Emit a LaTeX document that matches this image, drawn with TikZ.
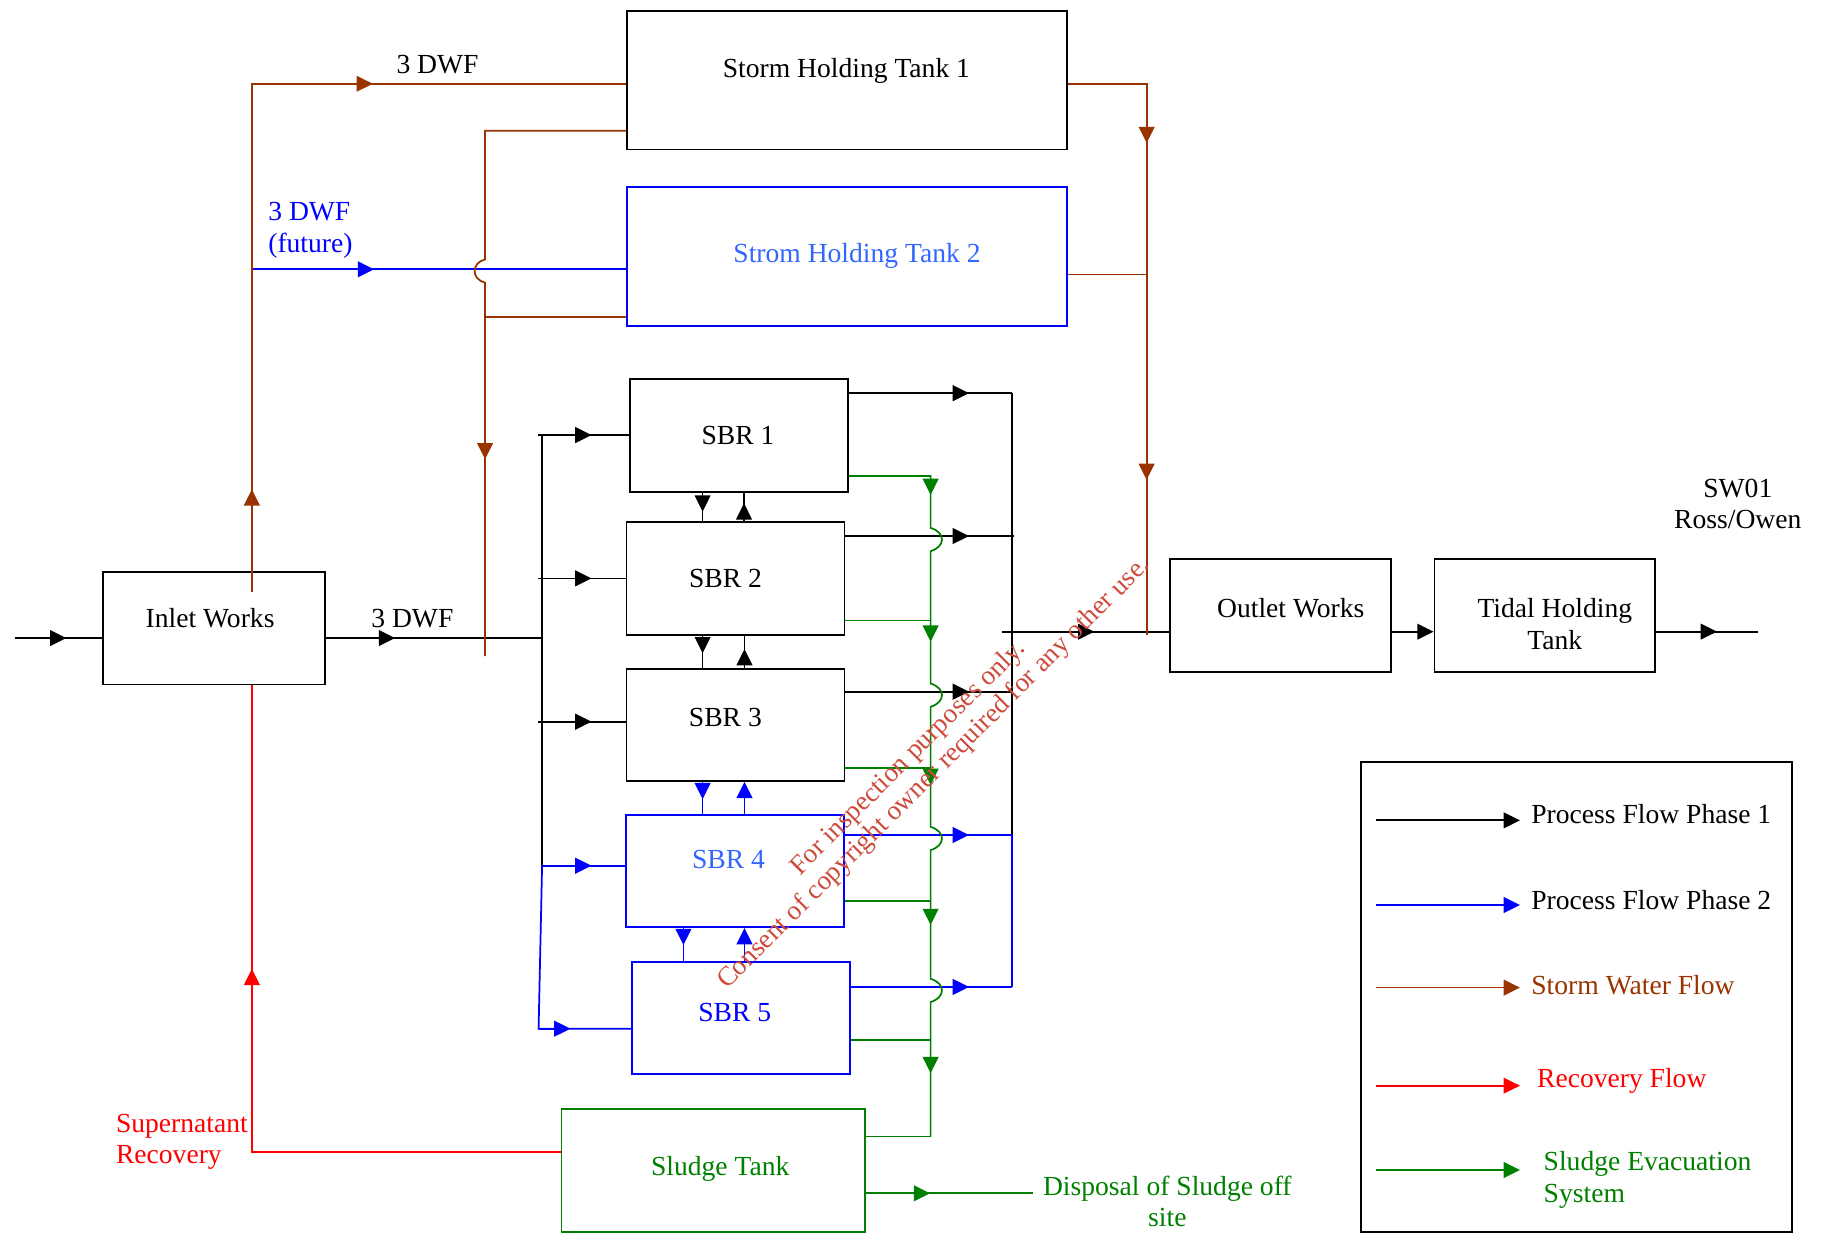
\documentclass[tikz,border=0pt]{standalone}
\usepackage{fontspec}
\setmainfont{Liberation Serif}
\usetikzlibrary{arrows.meta}

\definecolor{stormbrown}{RGB}{153,51,0}
\definecolor{phasetwo}{RGB}{0,0,255}
\definecolor{futureblue}{RGB}{51,102,255}
\definecolor{sludgegreen}{RGB}{0,128,0}
\definecolor{recovery}{RGB}{255,0,0}
\definecolor{stampred}{RGB}{205,75,60}

\begin{document}
\begin{tikzpicture}[x=0.02cm,y=-0.02cm,
    box/.style={draw,line width=0.9pt,inner sep=0pt},
    sbr/.style={box,minimum width=3.75cm,minimum height=1.93cm},
    lbl/.style={inner sep=0pt,anchor=base,font=\fontsize{13.5}{15.4}\selectfont},
    flow/.style={line width=0.85pt},
    flowtip/.style={flow,-{Triangle[length=0.28cm,width=0.27cm]}},
    stamp/.style={inner sep=0pt,text=stampred,rotate=45,font=\fontsize{13.3}{15}\selectfont}]
        \useasboundingbox (0,0) rectangle (1568,1061);

        % Boxes
        \node[box,minimum width=7.56cm,minimum height=2.38cm] (sht1) at (728,69) {};
        \node[box,draw=phasetwo,minimum width=7.56cm,minimum height=2.39cm] (sht2) at (728,220.4) {};
        \node[sbr] (sbr1) at (635.3,374.4) {};
        \node[sbr] (sbr2) at (632.3,497.3) {};
        \node[sbr] (sbr3) at (632.3,623) {};
        \node[sbr,draw=phasetwo] (sbr4) at (631.9,748.8) {};
        \node[sbr,draw=phasetwo] (sbr5) at (637,875.2) {};
        \node[box,draw=sludgegreen,minimum width=5.22cm,minimum height=2.11cm] (sludge) at (613.2,1006.3) {};
        \node[box,minimum width=3.81cm,minimum height=1.94cm] (inlet) at (184,539.9) {};
        \node[box,minimum width=3.81cm,minimum height=1.94cm] (outlet) at (1100.8,529) {};
        \node[box,minimum width=3.79cm,minimum height=1.94cm] (tidal) at (1327.9,529) {};
        \node[box,minimum width=7.41cm,minimum height=8.08cm] (legend) at (1354.9,856.8) {};

        % Coordinates
        \coordinate (src) at (12.5,548.5);
        \coordinate (feed) at (466,548.5);
        \coordinate (dtop) at (466,374);
        \coordinate (in1) at (462.5,374);
        \coordinate (in2) at (462.5,497.2);
        \coordinate (in3) at (462.5,620.4);
        \coordinate (in4) at (466,744.2);
        \coordinate (in5) at (463,884.3);
        \coordinate (c1) at (869.7,338);
        \coordinate (c2) at (871.5,460.8);
        \coordinate (c3) at (869.7,594.6);
        \coordinate (c4) at (869.7,717.8);
        \coordinate (c5) at (869.7,848.4);
        \coordinate (cout) at (861.6,543);
        \coordinate (sea) at (1511,543);
        \coordinate (g1) at (800,409.2);
        \coordinate (g2) at (800,533.5);
        \coordinate (g3) at (800,660.5);
        \coordinate (g4) at (800,774.5);
        \coordinate (g5) at (800,894);
        \coordinate (gs) at (800,977);
        \coordinate (disp) at (887.7,1025.8);
        \coordinate (bin) at (216.5,508.6);
        \coordinate (bup) at (216.5,72);
        \coordinate (fut) at (216.5,231.5);
        \coordinate (btop) at (417,112.3);
        \coordinate (bmid) at (417,272.8);
        \coordinate (bbot) at (417,564);
        \coordinate (rtop) at (985.7,72);
        \coordinate (rmid) at (985.7,236);
        \coordinate (rbot) at (985.7,545.9);
        \coordinate (rc) at (216.5,990.3);

        % Process flow phase 1
        \draw[flow] (src) -- (inlet.west |- src);
        \draw[flowtip] (src) -- (57,548.5);
        \draw[flow] (inlet.east |- feed) -- (feed);
        \draw[flowtip] (inlet.east |- feed) -- (339.6,548.5);
        \draw[flow] (dtop) -- (in4);
        \draw[flow] (in1) -- (sbr1.west |- in1);
        \draw[flowtip] (in1) -- (508.5,374);
        \draw[flow] (in2) -- (sbr2.west |- in2);
        \draw[flowtip] (in2) -- (508.5,497.2);
        \draw[flow] (in3) -- (sbr3.west |- in3);
        \draw[flowtip] (in3) -- (508.5,620.4);
        \draw[flow] (sbr1.east |- c1) -- (c1);
        \draw[flowtip] (sbr1.east |- c1) -- (833,338);
        \draw[flow] (sbr2.east |- c2) -- (c2);
        \draw[flowtip] (sbr2.east |- c2) -- (833,460.8);
        \draw[flow] (sbr3.east |- c3) -- (c3);
        \draw[flowtip] (sbr3.east |- c3) -- (833,594.6);
        \draw[flow] (c1) -- (c4);
        \draw[flow] (cout) -- (outlet.west |- cout);
        \draw[flowtip] (cout) -- (940.7,543);
        \draw[flowtip] (outlet.east |- cout) -- (tidal.west |- cout);
        \draw[flow] (tidal.east |- sea) -- (sea);
        \draw[flowtip] (tidal.east |- sea) -- (1476,543);
        \draw[flow] (sbr1.south -| 604,0) -- (sbr2.north -| 604,0);
        \draw[flowtip] (sbr1.south -| 604,0) -- (604,439.8);
        \draw[flow] (sbr2.north -| 639.6,0) -- (sbr1.south -| 639.6,0);
        \draw[flowtip] (sbr2.north -| 639.6,0) -- (639.6,432.6);
        \draw[flow] (sbr2.south -| 604,0) -- (sbr3.north -| 604,0);
        \draw[flowtip] (sbr2.south -| 604,0) -- (604,561.6);
        \draw[flow] (sbr3.north -| 640,0) -- (sbr2.south -| 640,0);
        \draw[flowtip] (sbr3.north -| 640,0) -- (640,558);

        % Process flow phase 2
        \draw[flow,phasetwo] (in4) -- (sbr4.west |- in4);
        \draw[flowtip,phasetwo] (in4) -- (508.5,744.2);
        \draw[flow,phasetwo] (in4) -- (in5) -- (sbr5.west |- in5);
        \draw[flowtip,phasetwo] (in5) -- (490.4,884.3);
        \draw[flow,phasetwo] (sbr4.east |- c4) -- (c4);
        \draw[flowtip,phasetwo] (sbr4.east |- c4) -- (833,717.8);
        \draw[flow,phasetwo] (sbr5.east |- c5) -- (c5);
        \draw[flowtip,phasetwo] (sbr5.east |- c5) -- (833,848.4);
        \draw[flow,phasetwo] (c4) -- (c5);
        \draw[flow,phasetwo] (sbr3.south -| 604,0) -- (sbr4.north -| 604,0);
        \draw[flowtip,phasetwo] (sbr3.south -| 604,0) -- (604,687);
        \draw[flowtip,phasetwo] (sbr4.north -| 640,0) -- (sbr3.south -| 640,0);
        \draw[flow,phasetwo] (sbr4.south -| 587.5,0) -- (sbr5.north -| 587.5,0);
        \draw[flowtip,phasetwo] (sbr4.south -| 587.5,0) -- (587.5,812.4);
        \draw[flowtip,phasetwo] (sbr5.north -| 640,0) -- (sbr4.south -| 640,0);
        \draw[flow,phasetwo] (fut) -- (sht2.west |- fut);
        \draw[flowtip,phasetwo] (fut) -- (321.6,231.5);

        % Storm water flow
        \draw[flow,stormbrown] (bin) -- (bup) -- (sht1.west |- bup);
        \draw[flowtip,stormbrown] (bin) -- (216.5,420.6);
        \draw[flowtip,stormbrown] (bup) -- (320.5,72);
        \draw[flow,stormbrown] (sht1.west |- btop) -- (btop) -- (417,223)
            .. controls (405,226) and (405,240) .. (417,243) -- (bbot);
        \draw[flow,stormbrown] (sht2.west |- bmid) -- (bmid);
        \draw[flowtip,stormbrown] (bmid) -- (417,394.9);
        \draw[flow,stormbrown] (sht1.east |- rtop) -- (rtop) -- (rbot);
        \draw[flowtip,stormbrown] (rtop) -- (985.7,123);
        \draw[flow,stormbrown] (sht2.east |- rmid) -- (rmid);
        \draw[flowtip,stormbrown] (rmid) -- (985.7,412.6);

        % Sludge evacuation
        \draw[flow,sludgegreen] (sbr1.east |- g1) -- (g1) -- (800,453.8)
            .. controls (813,457.8) and (813,469.8) .. (800,473.8) -- (800,587.6)
            .. controls (813,591.6) and (813,603.6) .. (800,607.6) -- (800,710.8)
            .. controls (813,714.8) and (813,726.8) .. (800,730.8) -- (800,841.4)
            .. controls (813,845.4) and (813,857.4) .. (800,861.4) -- (gs);
        \draw[flow,sludgegreen] (sbr2.east |- g2) -- (g2);
        \draw[flow,sludgegreen] (sbr3.east |- g3) -- (g3);
        \draw[flow,sludgegreen] (sbr4.east |- g4) -- (g4);
        \draw[flow,sludgegreen] (sbr5.east |- g5) -- (g5);
        \draw[flow,sludgegreen] (sludge.east |- gs) -- (gs);
        \draw[flowtip,sludgegreen] (g1) -- (800,425.5);
        \draw[flowtip,sludgegreen] (g2) -- (800,551.6);
        \draw[flowtip,sludgegreen] (g3) -- (800,674.8);
        \draw[flowtip,sludgegreen] (g4) -- (800,795.2);
        \draw[flowtip,sludgegreen] (g5) -- (800,922.5);
        \draw[flow,sludgegreen] (sludge.east |- disp) -- (disp);
        \draw[flowtip,sludgegreen] (sludge.east |- disp) -- (799.5,1025.8);

        % Recovery flow
        \draw[flow,recovery] (sludge.west |- rc) -- (rc) -- (inlet.south -| rc);
        \draw[flowtip,recovery] (rc) -- (216.5,832.8);

        % Legend
        \draw[flowtip] (1182.6,705.2) -- (1306.6,705.2);
        \draw[flowtip,phasetwo] (1182.6,778) -- (1306.6,778);
        \draw[flowtip,stormbrown] (1182.6,849) -- (1306.6,849);
        \draw[flowtip,recovery] (1182.6,933.3) -- (1306.6,933.3);
        \draw[flowtip,sludgegreen] (1182.6,1005.8) -- (1306.6,1005.8);

        % Texts
        \node[lbl] (sht1txt) at (727.6,66.5) {Storm Holding Tank 1};
        \node[lbl,text=futureblue] (sht2txt) at (736.7,225.8) {Strom Holding Tank 2};
        \node[lbl] (sbr1txt) at (634.4,382) {SBR 1};
        \node[lbl] (sbr2txt) at (623.7,504.9) {SBR 2};
        \node[lbl] (sbr3txt) at (623.6,624.7) {SBR 3};
        \node[lbl,text=futureblue] (sbr4txt) at (626.2,747) {SBR 4};
        \node[lbl,text=phasetwo] (sbr5txt) at (631.6,878.3) {SBR 5};
        \node[lbl,text=sludgegreen] (sludgetxt) at (619.1,1010.6) {Sludge Tank};
        \node[lbl] (inlettxt) at (180.6,539.6) {Inlet Works};
        \node[lbl] (outlettxt) at (1109.6,531) {Outlet Works};
        \node[lbl] (tidaltxt) at (1336.6,531) {\begin{tabular}[t]{@{}c@{}}Tidal Holding\\Tank\end{tabular}};
        \node[lbl] (swtxt) at (1493.9,427.5) {\begin{tabular}[t]{@{}c@{}}SW01\\Ross/Owen\end{tabular}};
        \node[lbl] (dwftop) at (376.1,63.6) {3 DWF};
        \node[lbl,anchor=base west,text=phasetwo] (dwffut) at (230.3,189.7) {\begin{tabular}[t]{@{}l@{}}3 DWF\\(future)\end{tabular}};
        \node[lbl] (dwfin) at (354.5,539.6) {3 DWF};
        \node[lbl,anchor=base west,text=recovery] (supertxt) at (99.4,973.5) {\begin{tabular}[t]{@{}l@{}}Supernatant\\Recovery\end{tabular}};
        \node[lbl,text=sludgegreen] (disptxt) at (1003.5,1027.3) {\begin{tabular}[t]{@{}c@{}}Disposal of Sludge off\\site\end{tabular}};
        \node[lbl,anchor=base west] (leg1) at (1316.1,708.3) {Process Flow Phase 1};
        \node[lbl,anchor=base west] (leg2) at (1316.1,781.7) {Process Flow Phase 2};
        \node[lbl,anchor=base west,text=stormbrown] (leg3) at (1316.1,854.8) {Storm Water Flow};
        \node[lbl,anchor=base west,text=recovery] (leg4) at (1321,935) {Recovery Flow};
        \node[lbl,anchor=base west,text=sludgegreen] (leg5) at (1326.7,1006.6) {\begin{tabular}[t]{@{}l@{}}Sludge Evacuation\\System\end{tabular}};

        % Stamp
        \node[stamp] (stamp1) at (781,652) {For inspection purposes only.};
        \node[stamp] (stamp2) at (803,665) {Consent of copyright owner required for any other use.};
\end{tikzpicture}
\end{document}
